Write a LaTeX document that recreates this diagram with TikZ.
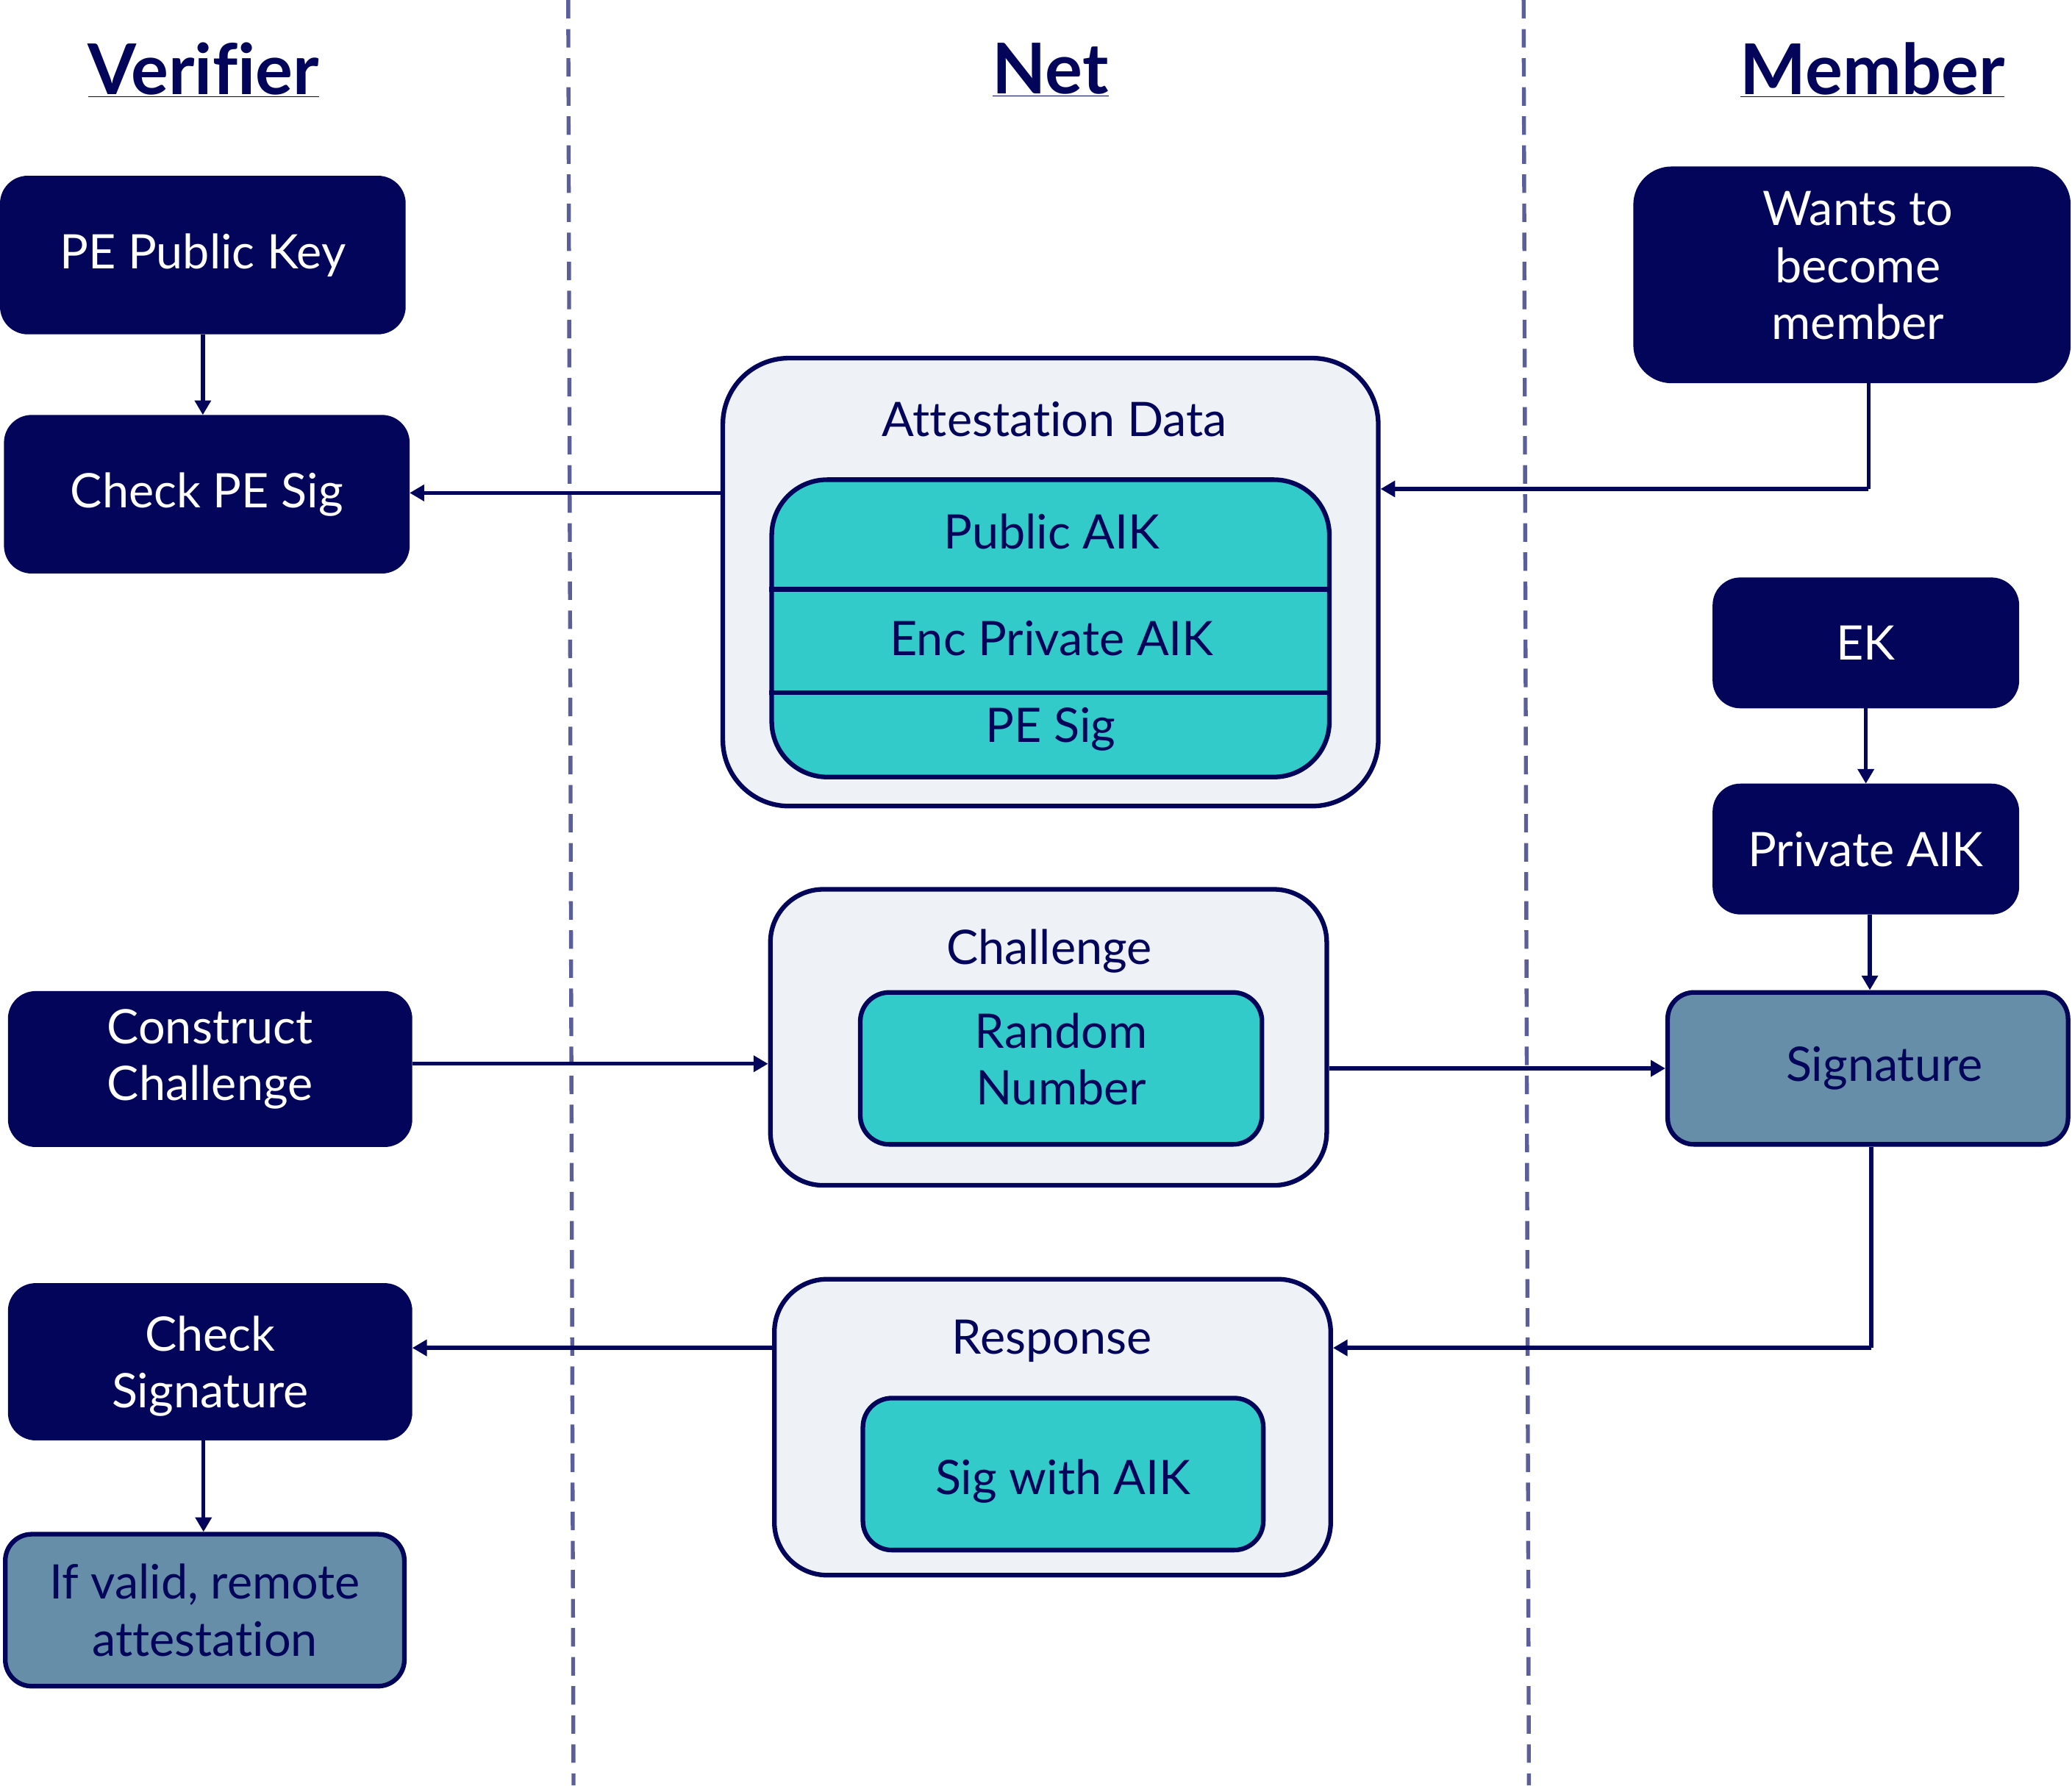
\documentclass[tikz,border=0pt]{standalone}
\usepackage{fontspec}
\setmainfont{Lato}[Ligatures=CommonOff]
\usetikzlibrary{positioning, arrows.meta}
\definecolor{navy}{HTML}{03055B}
\definecolor{teal}{HTML}{33CACA}
\definecolor{lightbg}{HTML}{EEF2F6}
\definecolor{steel}{HTML}{668EA9}
\definecolor{lane}{HTML}{5B5E99}
\tikzset{
  >={Triangle[length=11pt,width=12pt]}, % filled arrow heads
  flow/.style={->, draw=navy, line width=3pt}, % the connectors
  lanes/.style={draw=lane, line width=3pt, dash pattern=on 14pt off 8pt}, % swim lane borders
  header/.style={text=navy, font=\fontsize{53}{63}\selectfont\bfseries},
  darkbox/.style={draw=navy, fill=navy, text=white, line width=2pt, rounded corners=20pt, align=center, font=\fontsize{36}{43}\selectfont},
  resultbox/.style={darkbox, fill=steel, text=navy, line width=3.5pt},
  netbox/.style={draw=navy, fill=lightbg, line width=3.5pt, rounded corners=50pt},
  itembox/.style={draw=navy, fill=teal, text=navy, line width=3.5pt, rounded corners=22pt, align=center, font=\fontsize{36}{43}\selectfont},
  label/.style={text=navy, align=center, font=\fontsize{36}{43}\selectfont},
}
\begin{document}
\begin{tikzpicture}[x=1pt, y=-1pt]
  \useasboundingbox (0,0) rectangle (1568,1351);

  % lanes
  \coordinate (laneAtop) at (430,0);
  \coordinate (laneAbot) at (434,1351);
  \coordinate (laneBtop) at (1153,0);
  \coordinate (laneBbot) at (1157,1351);
  \draw[lanes] (laneAtop) -- (laneAbot);
  \draw[lanes] (laneBtop) -- (laneBbot);

  \node[header] (verifier) at (154,53) {\underline{Verifier}};
  \node[header] (net) at (795,53) {\underline{Net}};
  \node[header] (member) at (1417,53) {\underline{Member}};

  % verifier side
  \node[darkbox, minimum width=305pt, minimum height=118pt] (pubkey) at (153.5,193) {PE Public Key};
  \node[darkbox, minimum width=305pt, minimum height=118pt] (checkpe) at (156.5,374) {Check PE Sig};
  \node[darkbox, minimum width=304pt, minimum height=116pt] (construct) at (159,809) {};
  \node[label, text=white] (constructtext) at (159,801.5) {Construct\\Challenge};
  \node[darkbox, minimum width=304pt, minimum height=117pt] (checksig) at (159,1030.5) {};
  \node[label, text=white] (checksigtext) at (159,1034) {Check\\Signature};
  \node[resultbox, minimum width=302pt, minimum height=115pt] (valid) at (155,1218.5) {If valid, remote\\attestation};

  % net
  \node[netbox, minimum width=496pt, minimum height=339pt] (attest) at (795,440.5) {};
  \node[label] (attesttitle) at (798,317) {Attestation Data};
  \node[itembox, rounded corners=42pt, minimum width=422pt, minimum height=225pt] (aikbox) at (795,475.5) {};
  \draw[navy, line width=3.5pt] (aikbox.west |- 0,446) -- (aikbox.east |- 0,446);
  \draw[navy, line width=3.5pt] (aikbox.west |- 0,524) -- (aikbox.east |- 0,524);
  \node[label] (pubaik) at (796,402) {Public AIK};
  \node[label] (encaik) at (796,483) {Enc Private AIK};
  \node[label] (pesig) at (795,552) {PE Sig};

  \node[netbox, rounded corners=40pt, minimum width=421pt, minimum height=224pt] (challenge) at (793.5,785) {};
  \node[label] (challengetitle) at (794,720) {Challenge};
  \node[itembox, minimum width=304pt, minimum height=115pt] (random) at (803,808.5) {};
  \node[label] (randomtext) at (803,801.5) {Random\\Number};

  \node[netbox, rounded corners=40pt, minimum width=421pt, minimum height=224pt] (response) at (796.5,1080) {};
  \node[label] (responsetitle) at (796,1015) {Response};
  \node[itembox, minimum width=303pt, minimum height=115pt] (sigaik) at (804.5,1115.5) {};
  \node[label] (sigaiktext) at (804.5,1121) {Sig with AIK};

  % member side
  \node[darkbox, rounded corners=28pt, minimum width=329pt, minimum height=162pt] (wants) at (1401.5,208) {};
  \node[label, text=white] (wantstext) at (1406,201) {Wants to\\become\\member};
  \node[darkbox, minimum width=230pt, minimum height=97pt] (ek) at (1412,486.5) {EK};
  \node[darkbox, minimum width=230pt, minimum height=97pt] (privaik) at (1412,642.5) {Private AIK};
  \node[resultbox, minimum width=303pt, minimum height=115pt] (sig) at (1413.5,808.5) {\hspace*{25pt}Signature};

  % connectors
  \coordinate (wantsbend) at (1414,370);
  \coordinate (sigbend) at (1416,1020);
  \draw[flow] (pubkey.south) -- (pubkey.south |- checkpe.north);
  \draw[flow] (attest.west |- 0,373) -- (checkpe.east |- 0,373);
  \draw[flow, -] (wants.south -| wantsbend) -- (wantsbend);
  \draw[flow] (wantsbend) -- (attest.east |- wantsbend);
  \draw[flow] (ek) -- (privaik);
  \draw[flow] (privaik.south -| 1415,0) -- (sig.north -| 1415,0);
  \draw[flow] (construct.east |- 0,805) -- (challenge.west |- 0,805);
  \draw[flow] (challenge.east |- sig) -- (sig.west);
  \draw[flow, -] (sig.south -| sigbend) -- (sigbend);
  \draw[flow] (sigbend) -- (response.east |- sigbend);
  \draw[flow] (response.west |- sigbend) -- (checksig.east |- sigbend);
  \draw[flow] (checksig.south -| 154,0) -- (valid.north -| 154,0);
\end{tikzpicture}
\end{document}
